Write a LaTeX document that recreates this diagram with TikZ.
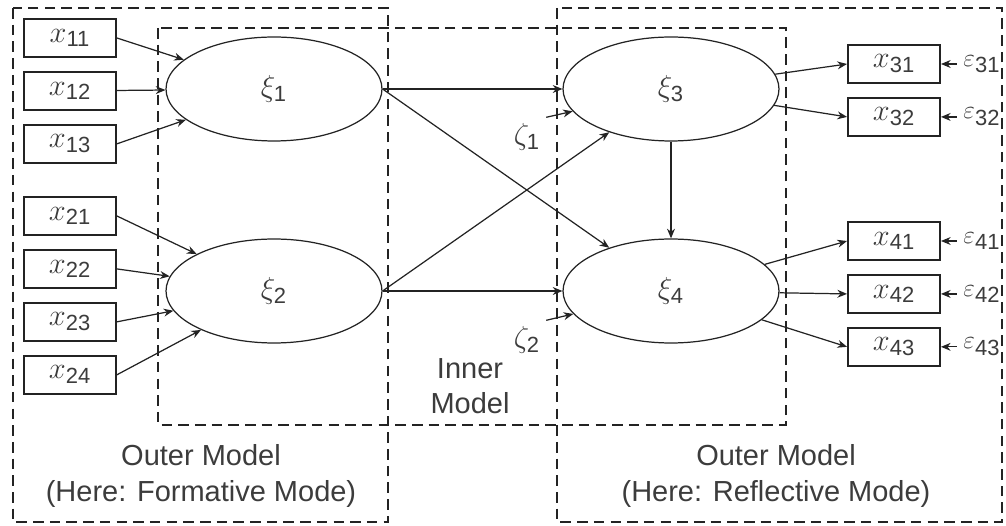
\documentclass[tikz,border=0pt]{standalone}
\usepackage{amsmath}
\usepackage{fontspec}
\setmainfont{Liberation Sans}
\usetikzlibrary{shapes.geometric, arrows.meta, positioning}
\definecolor{linegray}{RGB}{35,35,35}
\definecolor{textgray}{RGB}{60,60,60}
\newcommand{\mvar}[2]{$#1_{\text{\fontsize{12.5}{12.5}\selectfont #2}}$}

\begin{document}
\begin{tikzpicture}[
        x=0.02cm, y=-0.02cm,
        font=\fontsize{16}{20}\selectfont, text=textgray,
        node distance=0.26cm,
        indicator/.style={rectangle, draw=linegray, line width=1.1pt,
            minimum width=1.84cm, minimum height=0.76cm, inner sep=0pt,
            font=\fontsize{17}{20}\selectfont},
        latent/.style={ellipse, draw=linegray, line width=0.7pt,
            minimum width=4.32cm, minimum height=2.08cm, inner sep=0pt},
        errterm/.style={inner sep=3.5pt, font=\fontsize{14}{16}\selectfont},
        region/.style={draw=linegray, line width=1.2pt, dash pattern=on 6pt off 3.5pt},
        arrow/.style={-{Stealth[length=5.5pt, width=4.5pt]}, line width=0.7pt, color=linegray},
        caption/.style={align=center, font=\fontsize{16.5}{20}\selectfont}
        ]
        \useasboundingbox (0,0) rectangle (1006,526);

        % model regions
        \draw[region] (13,8) rectangle (388,522);
        \draw[region] (557,8) rectangle (1002,522);
        \draw[region] (158,28) rectangle (786,425);

        % latent variables
        \node[latent] (xi1) at (274,89) {\mvar{\xi}{1}};
        \node[latent] (xi2) at (274,291) {\mvar{\xi}{2}};
        \node[latent] (xi3) at (671,89) {\mvar{\xi}{3}};
        \node[latent] (xi4) at (671,291) {\mvar{\xi}{4}};

        % formative indicators
        \node[indicator] (x11) at (70,38) {\mvar{x}{11}};
        \node[indicator, below=of x11] (x12) {\mvar{x}{12}};
        \node[indicator, below=of x12] (x13) {\mvar{x}{13}};
        \node[indicator] (x21) at (70,216) {\mvar{x}{21}};
        \node[indicator, below=of x21] (x22) {\mvar{x}{22}};
        \node[indicator, below=of x22] (x23) {\mvar{x}{23}};
        \node[indicator, below=of x23] (x24) {\mvar{x}{24}};

        % reflective indicators
        \node[indicator] (x31) at (894,64) {\mvar{x}{31}};
        \node[indicator, below=of x31] (x32) {\mvar{x}{32}};
        \node[indicator] (x41) at (894,241) {\mvar{x}{41}};
        \node[indicator, below=of x41] (x42) {\mvar{x}{42}};
        \node[indicator, below=of x42] (x43) {\mvar{x}{43}};

        \node[errterm, right=0.32cm of x31] (eps31) {\mvar{\varepsilon}{31}};
        \node[errterm, right=0.32cm of x32] (eps32) {\mvar{\varepsilon}{32}};
        \node[errterm, right=0.32cm of x41] (eps41) {\mvar{\varepsilon}{41}};
        \node[errterm, right=0.32cm of x42] (eps42) {\mvar{\varepsilon}{42}};
        \node[errterm, right=0.32cm of x43] (eps43) {\mvar{\varepsilon}{43}};

        \node[font=\fontsize{17}{20}\selectfont] (zeta1) at (527,137) {\mvar{\zeta}{1}};
        \node[font=\fontsize{17}{20}\selectfont] (zeta2) at (527,340) {\mvar{\zeta}{2}};

        % captions
        \node[caption] (inner) at (470,386) {Inner\\Model};
        \node[caption] (outerf) at (201,476) {Outer Model\\(Here: Formative Mode)};
        \node[caption] (outerr) at (776,476) {Outer Model\\(Here: Reflective Mode)};

        % outer model, formative
        \draw[arrow] (x11.east) -- (xi1);
        \draw[arrow] (x12) -- (xi1);
        \draw[arrow] (x13.east) -- (xi1);
        \draw[arrow] (x21.east) -- (xi2);
        \draw[arrow] (x22.east) -- (xi2);
        \draw[arrow] (x23.east) -- (xi2);
        \draw[arrow] (x24.east) -- (xi2);

        % inner model
        \draw[arrow] (xi1) -- (xi3);
        \draw[arrow] (xi1.east) -- (xi4);
        \draw[arrow] (xi2.east) -- (xi3);
        \draw[arrow] (xi2) -- (xi4);
        \draw[arrow] (xi3) -- (xi4);
        \draw[arrow] (zeta1.north east) -- (xi3);
        \draw[arrow] (zeta2.north east) -- (xi4);

        % outer model, reflective
        \draw[arrow] (xi3) -- (x31.west);
        \draw[arrow] (xi3) -- (x32.west);
        \draw[arrow] (xi4) -- (x41.west);
        \draw[arrow] (xi4) -- (x42.west);
        \draw[arrow] (xi4) -- (x43.west);
        \draw[arrow] (eps31) -- (x31);
        \draw[arrow] (eps32) -- (x32);
        \draw[arrow] (eps41) -- (x41);
        \draw[arrow] (eps42) -- (x42);
        \draw[arrow] (eps43) -- (x43);
    \end{tikzpicture}
\end{document}
